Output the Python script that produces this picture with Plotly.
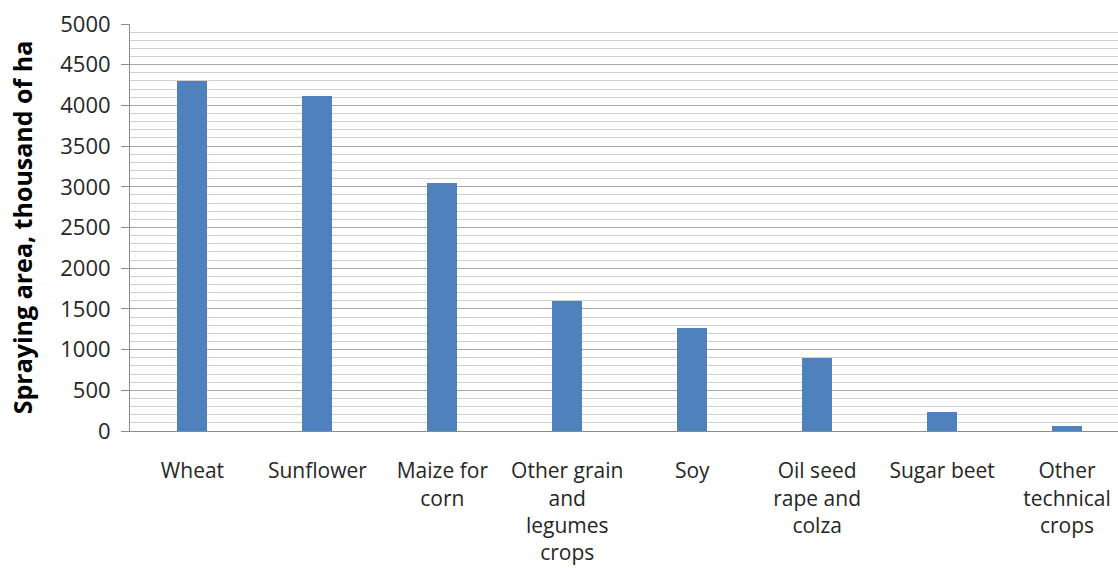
import plotly.graph_objects as go

categories = ["Wheat", "Sunflower", "Maize for<br>corn", "Other grain<br>and<br>legumes<br>crops",
              "Soy", "Oil seed<br>rape and<br>colza", "Sugar beet", "Other<br>technical<br>crops"]
values = [4300, 4120, 3050, 1600, 1260, 900, 230, 60]
y_ticks = [0, 500, 1000, 1500, 2000, 2500, 3000, 3500, 4000, 4500, 5000]

FONT = "Open Sans"
fig = go.Figure(go.Bar(x=list(range(len(categories))), y=values, width=0.24,
                       marker=dict(color="#4f81bd", line=dict(width=0))))
fig.update_layout(
    width=1118, height=568, margin=dict(l=130, r=0, t=24, b=137),
    plot_bgcolor="white", paper_bgcolor="white", showlegend=False,
    font=dict(family=FONT, color="#404040", size=21),
    bargap=0,
)
fig.update_xaxes(range=[-0.5, 7.408], tickmode="array", tickvals=list(range(len(categories))),
                 ticktext=categories, showgrid=False, showline=True, linecolor="#8c8c8c",
                 linewidth=1, ticks="", ticklabelstandoff=21, tickfont=dict(size=21, color="#262626"))
fig.update_yaxes(range=[0, 5000], tickmode="array", tickvals=y_ticks, ticks="outside",
                 ticklen=8, tickcolor="#8c8c8c", showline=True, linecolor="#8c8c8c", linewidth=1,
                 gridcolor="#a6a6a6", gridwidth=1,
                 minor=dict(dtick=100, showgrid=True, gridcolor="#cfcfcf", gridwidth=1, ticks=""),
                 ticklabelstandoff=6, tickfont=dict(size=22, color="#262626"), zeroline=False,
                 title=dict(text="<b>Spraying area, thousand of ha</b>", font=dict(size=25, color="#000000"),
                            standoff=20))
fig.write_html("out.html")
